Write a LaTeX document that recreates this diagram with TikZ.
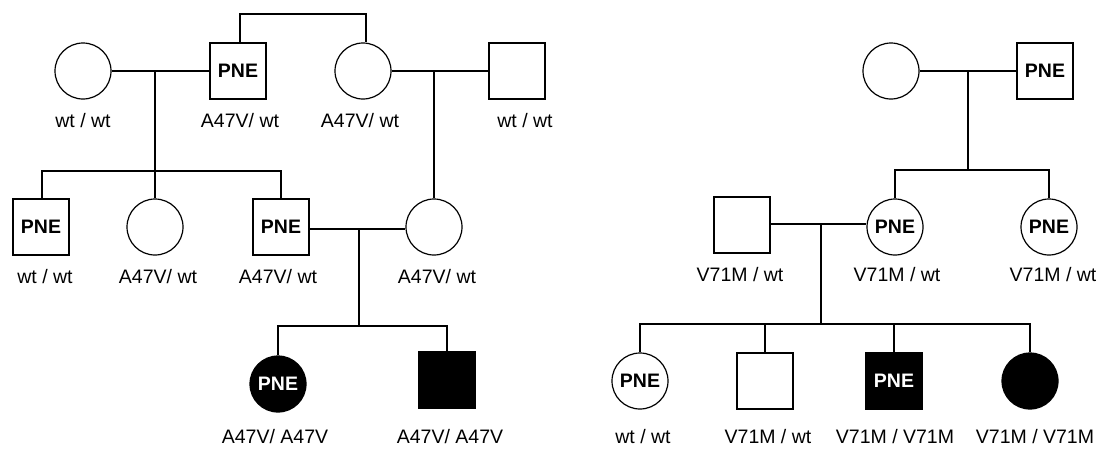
\documentclass[tikz,border=0pt]{standalone}
\usepackage{fontspec}
\setmainfont{Liberation Sans}
\newcommand\pnef{\fontsize{19.5}{22}\selectfont\bfseries}
\newcommand\lblf{\fontsize{19.5}{22}\selectfont}
\begin{document}
\begin{tikzpicture}[x=1pt,y=-1pt,line width=1.2pt,
  fem/.style={circle,draw,minimum size=56pt,inner sep=0pt,font=\pnef},
  mal/.style={rectangle,draw,minimum size=56pt,inner sep=0pt,font=\pnef},
  aff/.style={fill=black,text=white},
  lbl/.style={inner sep=0pt,font=\lblf}]
\useasboundingbox (0,0) rectangle (1102,448);
% ---- left family ----
\node[fem] (A) at (83,71) {};
\node[mal] (B) at (238,71) {PNE};
\node[fem] (C) at (363,71) {};
\node[mal] (D) at (517,71) {};
\node[mal] (E) at (41,227) {PNE};
\node[fem] (F) at (155,227) {};
\node[mal] (G) at (281,227) {PNE};
\node[fem] (H) at (434,227) {};
\node[fem,aff] (I) at (278,384) {PNE};
\node[mal,aff] (J) at (447,380) {};
\node[lbl] (lA) at (83,121) {wt / wt};
\node[lbl] (lB) at (240,121) {A47V/ wt};
\node[lbl] (lC) at (360,121) {A47V/ wt};
\node[lbl] (lD) at (525,121) {wt / wt};
\node[lbl] (lE) at (45,277) {wt / wt};
\node[lbl] (lF) at (158,277) {A47V/ wt};
\node[lbl] (lG) at (278,277) {A47V/ wt};
\node[lbl] (lH) at (437,277) {A47V/ wt};
\node[lbl] (lI) at (275,437) {A47V/ A47V};
\node[lbl] (lJ) at (450,437) {A47V/ A47V};
\coordinate (top) at (300,14);
\coordinate (ab) at (155,71);
\coordinate (s1) at (155,171);
\coordinate (cd) at (434,71);
\coordinate (gh) at (359,229);
\coordinate (s2) at (359,326);
\draw ([xshift=2pt]B.north) |- (top) -| ([xshift=3pt]C.north);
\draw (A.east) -- (B.west);
\draw (ab) -- (F.north);
\draw ([xshift=1pt]E.north) |- (s1) -| (G.north);
\draw (C.east) -- (D.west);
\draw (cd) -- (H.north);
\draw (G.east |- gh) -- (H.west |- gh);
\draw (gh) -- (s2);
\draw (I.north) |- (s2) -| (J.north);
% ---- right family ----
\node[fem] (K) at (891,71) {};
\node[mal] (L) at (1045,71) {PNE};
\node[mal] (M) at (742,225) {};
\node[fem] (N) at (895,227) {PNE};
\node[fem] (O) at (1049,227) {PNE};
\node[fem] (P) at (640,381) {PNE};
\node[mal] (Q) at (765,381) {};
\node[mal,aff] (R) at (894,381) {PNE};
\node[fem,aff] (S) at (1030,381) {};
\node[lbl] (lM) at (740,275) {V71M / wt};
\node[lbl] (lN) at (897,275) {V71M / wt};
\node[lbl] (lO) at (1053,275) {V71M / wt};
\node[lbl] (lP) at (643,437) {wt / wt};
\node[lbl] (lQ) at (768,437) {V71M / wt};
\node[lbl] (lR) at (895,437) {V71M / V71M};
\node[lbl] (lS) at (1035,437) {V71M / V71M};
\coordinate (kl) at (968,71);
\coordinate (s3) at (968,170);
\coordinate (mn) at (821,224);
\coordinate (s4) at (821,324);
\draw (K.east) -- (L.west);
\draw (kl) -- (s3);
\draw (N.north) |- (s3) -| (O.north);
\draw (M.east |- mn) -- (N.west |- mn);
\draw (mn) -- (s4);
\draw (P.north) |- (s4) -| (S.north);
\draw (Q.north) -- (Q.north |- s4);
\draw (R.north) -- (R.north |- s4);
\end{tikzpicture}
\end{document}
